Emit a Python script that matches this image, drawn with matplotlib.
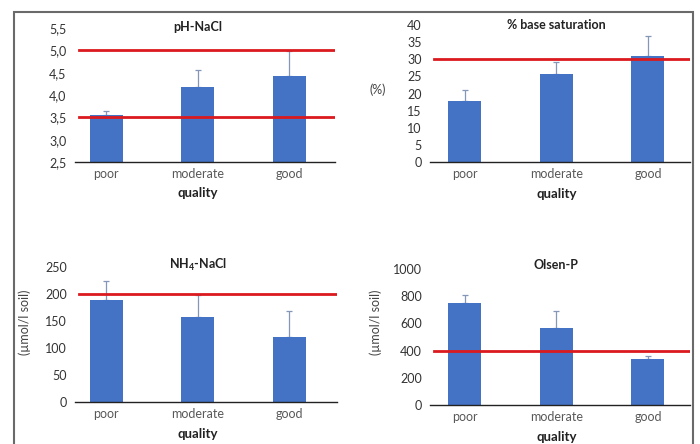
import numpy as np
import matplotlib
matplotlib.use("Agg")
import matplotlib.pyplot as plt
from matplotlib.patches import Rectangle
from matplotlib.ticker import FixedLocator, FixedFormatter

plt.rcParams["font.family"] = ["Lato", "DejaVu Sans"]
plt.rcParams["mathtext.fontset"] = "custom"
plt.rcParams["mathtext.rm"] = "Lato"
plt.rcParams["mathtext.bf"] = "Lato:bold"

CATEGORIES = ["poor", "moderate", "good"]

PH_MEAN = [3.55, 4.19, 4.43]
PH_ERR = [0.09, 0.36, 0.55]
PH_LIMITS = [3.5, 5.0]
PH_TICKS = [2.5, 3.0, 3.5, 4.0, 4.5, 5.0, 5.5]

BS_MEAN = [17.7, 25.6, 31.0]
BS_ERR = [3.4, 3.5, 5.9]
BS_LIMITS = [30]
BS_TICKS = [0, 5, 10, 15, 20, 25, 30, 35, 40]

NH4_MEAN = [188, 157, 121]
NH4_ERR = [36, 42, 48]
NH4_LIMITS = [200]
NH4_TICKS = [0, 50, 100, 150, 200, 250]

OLSEN_MEAN = [753, 569, 338]
OLSEN_ERR = [59, 125, 25]
OLSEN_LIMITS = [400]
OLSEN_TICKS = [0, 200, 400, 600, 800, 1000]

BAR = "#4472C4"
ERRC = "#8497b8"
RED = "#da1a1f"
W, H = 700, 444


def px_axes(x0, x1, ytop, ybot):
    return fig.add_axes([x0 / W, 1 - ybot / H, (x1 - x0) / W, (ybot - ytop) / H])


def panel(ax, mean, err, limits, ticks, title, xl, fmt=None, ylabel=None,
          ylab_pos=None, ylab_rot=0, title_y=1.01):
    x = np.arange(len(CATEGORIES))
    ax.bar(x, mean, width=0.36, color=BAR, zorder=2)
    ax.errorbar(x, mean, yerr=[np.zeros(len(err)), err], fmt="none", ecolor=ERRC,
                elinewidth=0.9, capsize=2.5, capthick=0.9, zorder=1)
    for v in limits:
        ax.axhline(v, color=RED, lw=2.0, zorder=3, xmin=0.015, xmax=0.995)
    ax.set_xlim(*xl)
    ax.set_ylim(ticks[0], ticks[-1])
    ax.yaxis.set_major_locator(FixedLocator(ticks))
    labels = [fmt(t) for t in ticks] if fmt else [str(t) for t in ticks]
    ax.yaxis.set_major_formatter(FixedFormatter(labels))
    ax.set_xticks(x)
    ax.set_xticklabels(CATEGORIES)
    ax.tick_params(axis="y", length=0, labelsize=9, pad=6, labelcolor="#333333")
    ax.tick_params(axis="x", length=0, labelsize=9, pad=4, labelcolor="#595959")
    for s in ["top", "right", "left"]:
        ax.spines[s].set_visible(False)
    ax.spines["bottom"].set_color("#222222")
    ax.spines["bottom"].set_linewidth(1.0)
    tr = ax.get_xaxis_transform()
    ax.text(1, title_y, title, transform=tr, ha="center", va="center",
            fontsize=9, fontweight="bold", color="#222222")
    ax.text(1, -0.235, "quality", transform=tr, ha="center", va="center",
            fontsize=9.5, fontweight="bold", color="#222222")
    if ylabel:
        ax.text(ylab_pos[0], ylab_pos[1], ylabel, transform=ax.transAxes,
                ha="center", va="center", rotation=ylab_rot, fontsize=9,
                color="#444444")


fig = plt.figure(figsize=(7, 4.44), dpi=100)
fig.add_artist(Rectangle((14 / W, -0.05), (693 - 14) / W, 1 - 12 / H + 0.05,
                         transform=fig.transFigure, fill=False,
                         edgecolor="#6a6a6a", lw=1.5))

ax1 = px_axes(75, 335, 28, 162)
panel(ax1, PH_MEAN, PH_ERR, PH_LIMITS, PH_TICKS, "pH-NaCl", (-0.34, 2.5),
      fmt=lambda t: f"{t:.1f}".replace(".", ","), title_y=1.005)

ax2 = px_axes(430, 690, 25, 162)
panel(ax2, BS_MEAN, BS_ERR, BS_LIMITS, BS_TICKS, "% base saturation", (-0.38, 2.46),
      ylabel="(%)", ylab_pos=(-0.2, 0.53), title_y=1.0)

ax3 = px_axes(75, 337, 267, 402)
panel(ax3, NH4_MEAN, NH4_ERR, NH4_LIMITS, NH4_TICKS, r"NH$_\mathbf{4}$-NaCl", (-0.34, 2.52),
      ylabel="(µmol/l soil)", ylab_pos=(-0.19, 0.59), ylab_rot=90, title_y=1.015)

ax4 = px_axes(430, 690, 269, 405)
panel(ax4, OLSEN_MEAN, OLSEN_ERR, OLSEN_LIMITS, OLSEN_TICKS, "Olsen-P", (-0.38, 2.46),
      ylabel="(µmol/l soil)", ylab_pos=(-0.21, 0.61), ylab_rot=90, title_y=1.027)

fig.savefig("out.png", dpi=100)
